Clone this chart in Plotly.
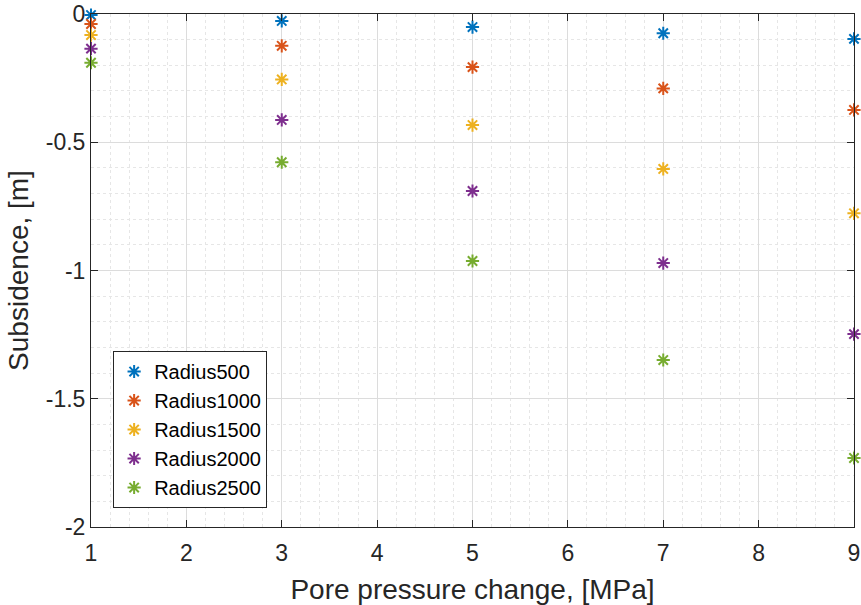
import plotly.graph_objects as go

pressure = [1, 3, 5, 7, 9]
radius500 = [-0.004, -0.027, -0.051, -0.075, -0.097]
radius1000 = [-0.039, -0.124, -0.207, -0.290, -0.374]
radius1500 = [-0.082, -0.255, -0.433, -0.604, -0.777]
radius2000 = [-0.135, -0.413, -0.690, -0.971, -1.248]
radius2500 = [-0.190, -0.578, -0.963, -1.349, -1.731]

names = ["Radius500", "Radius1000", "Radius1500", "Radius2000", "Radius2500"]
colors = ["#0072BD", "#D95319", "#EDB120", "#7E2F8E", "#77AC30"]

x_ticks = [1, 2, 3, 4, 5, 6, 7, 8, 9]
y_tickvals = [0, -0.5, -1, -1.5, -2]
y_ticktext = ["0", "-0.5", "-1", "-1.5", "-2"]

FONT = "Liberation Sans, Arial, Helvetica, sans-serif"
TXT = "#262626"

fig = go.Figure()
for name, ys, col in zip(names, [radius500, radius1000, radius1500, radius2000, radius2500], colors):
    fig.add_trace(go.Scatter(
        x=pressure, y=ys, mode="markers", name=name, cliponaxis=False,
        marker=dict(symbol="asterisk-open", size=11, color=col,
                    line=dict(color=col, width=2)),
    ))

axis_common = dict(
    showline=True, linecolor=TXT, linewidth=1, mirror="ticks",
    ticks="inside", ticklen=7, tickcolor=TXT, tickwidth=1,
    showgrid=True, gridcolor="#DCDCDC", gridwidth=1,
    zeroline=False, automargin=False,
    tickfont=dict(family=FONT, size=23, color=TXT),
)

fig.update_xaxes(
    range=[1, 9], tickvals=x_ticks,
    title_text="Pore pressure change, [MPa]", title_standoff=20,
    title_font=dict(family=FONT, size=28, color=TXT),
    ticklabelstandoff=5,
    minor=dict(dtick=0.2, showgrid=True, gridcolor="#E6E6E6", griddash="dot", gridwidth=1),
    **axis_common,
)
fig.update_yaxes(
    range=[-2, 0], tickvals=y_tickvals, ticktext=y_ticktext,
    title_text="Subsidence, [m]", title_standoff=8,
    title_font=dict(family=FONT, size=28, color=TXT),
    minor=dict(dtick=0.1, showgrid=True, gridcolor="#E6E6E6", griddash="dot", gridwidth=1),
    **axis_common,
)

fig.update_layout(
    width=861, height=605,
    margin=dict(l=91, r=7, t=14, b=78),
    paper_bgcolor="white", plot_bgcolor="white",
    font=dict(family=FONT, color=TXT),
    showlegend=True,
    legend=dict(
        x=0.029, y=0.037, xanchor="left", yanchor="bottom",
        bgcolor="white", bordercolor=TXT, borderwidth=1,
        font=dict(family=FONT, size=20, color="black"),
        itemwidth=30, tracegroupgap=0,
    ),
)

fig.write_html("out.html", config={"displayModeBar": False},
               post_script="document.body.style.margin='0';document.body.style.overflow='hidden';")
